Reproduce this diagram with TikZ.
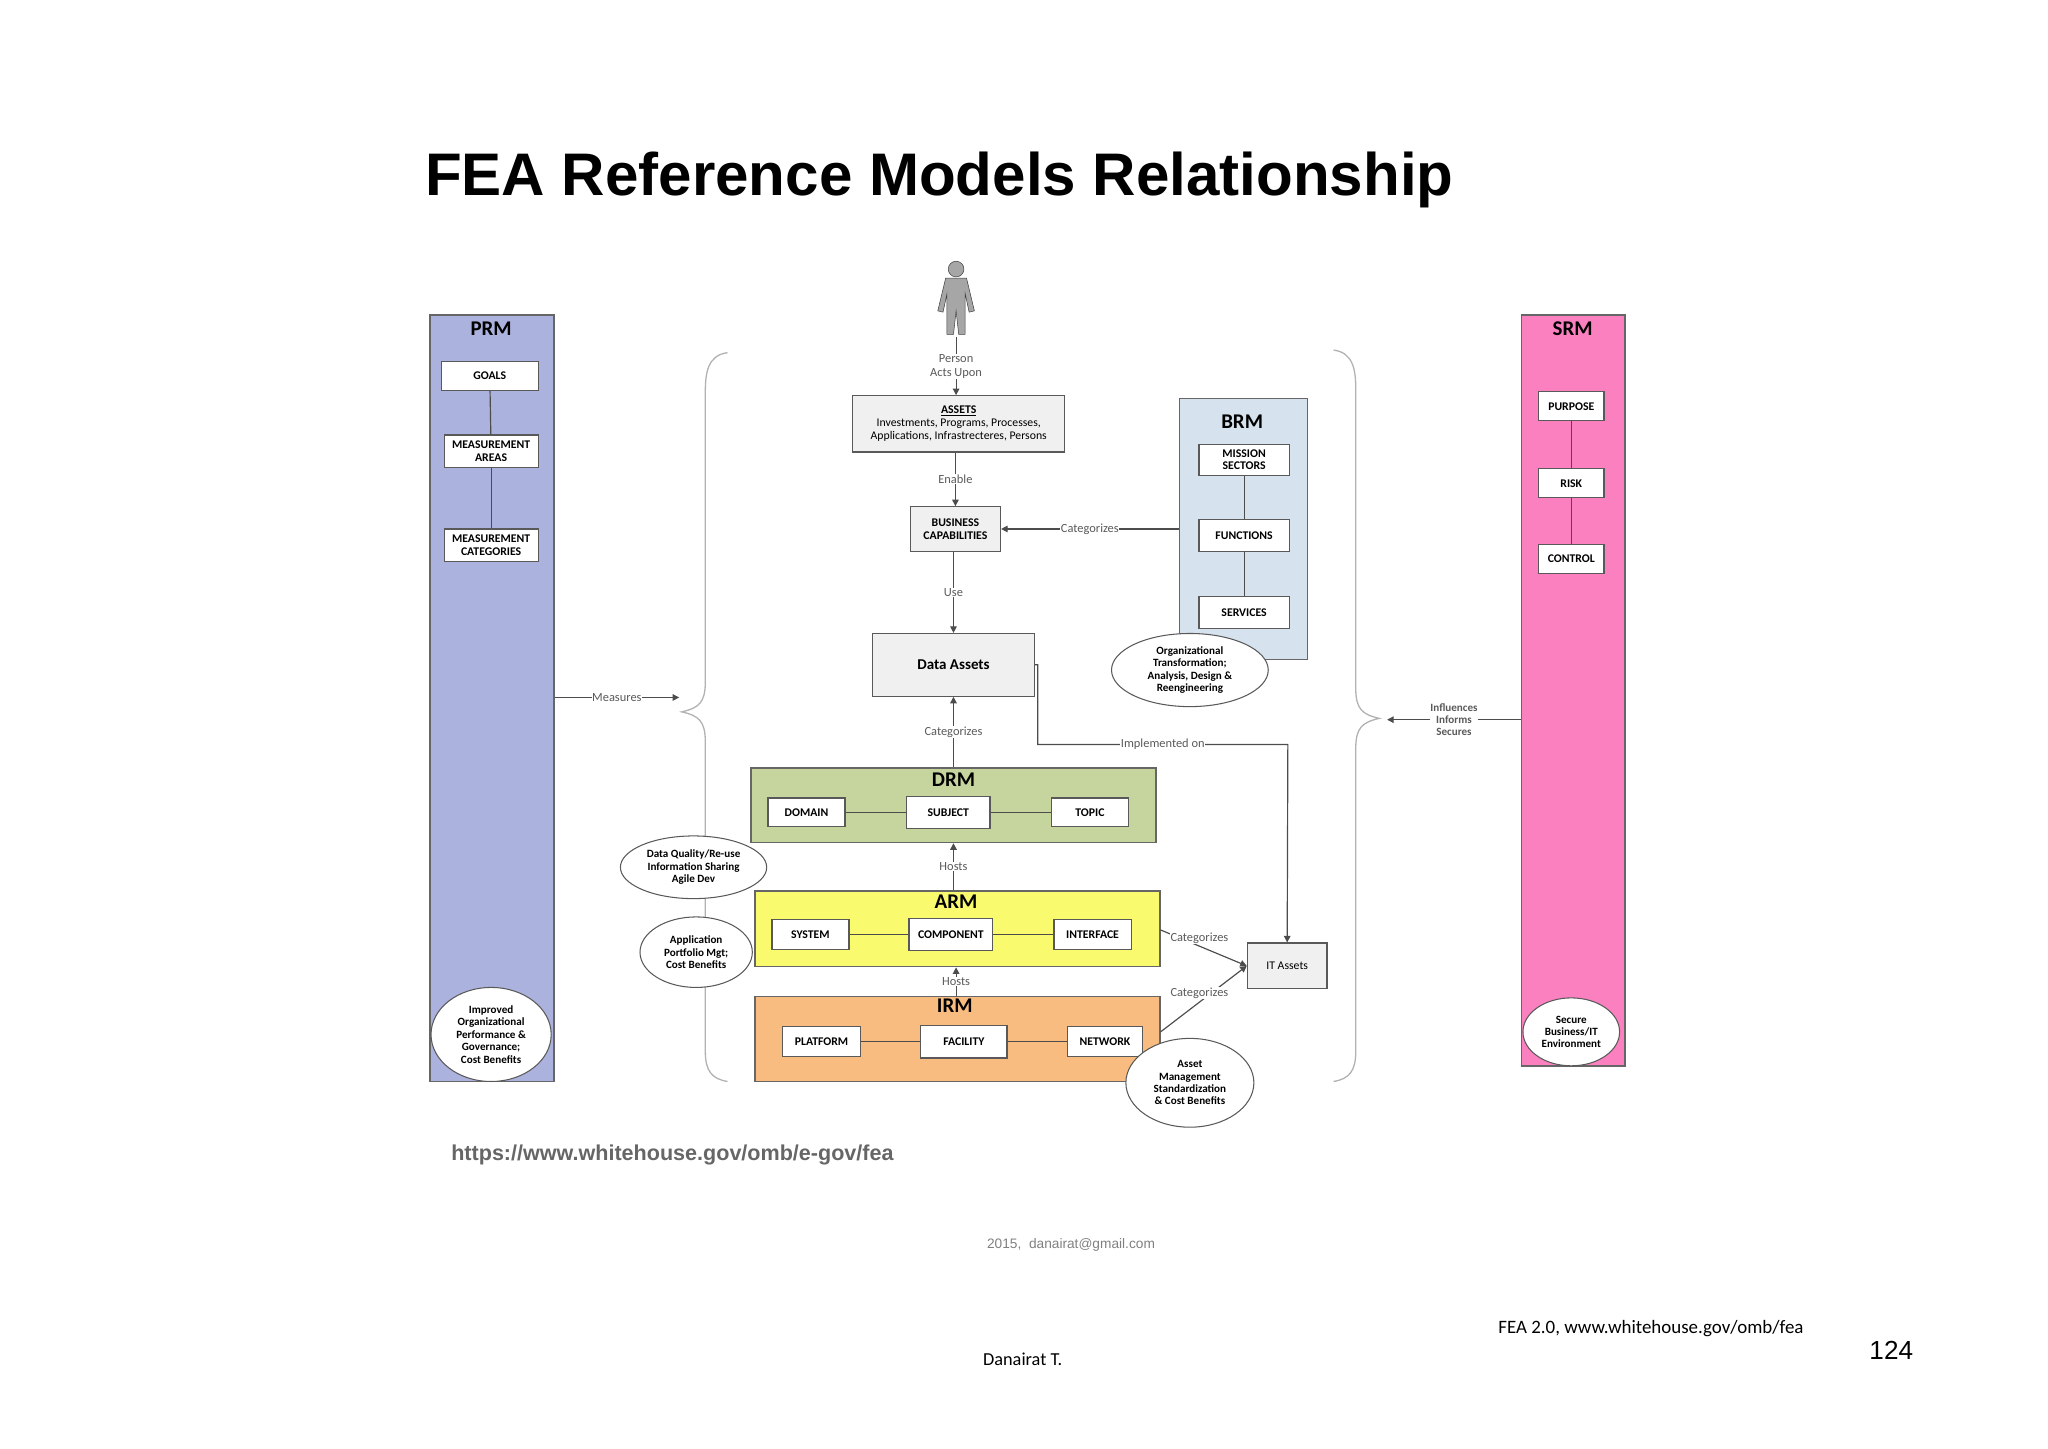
\documentclass[tikz,border=0pt]{standalone}
\usepackage{fontspec}
\setmainfont{Carlito}
\newfontfamily\arialfont{Liberation Sans}
\usetikzlibrary{shapes.geometric,arrows.meta,calc}
\definecolor{prmfill}{RGB}{172,178,222}
\definecolor{brmfill}{RGB}{214,227,239}
\definecolor{drmfill}{RGB}{198,212,158}
\definecolor{armfill}{RGB}{250,250,110}
\definecolor{irmfill}{RGB}{248,188,128}
\definecolor{srmfill}{RGB}{250,128,192}
\definecolor{txtgray}{RGB}{90,90,90}
\begin{document}
\begin{tikzpicture}[x=1pt,y=-1pt,
  model/.style={draw=gray!80!black, line width=1.2pt},
  item/.style={draw=gray!70!black, fill=white, line width=0.9pt, font=\fontsize{9}{9.5}\selectfont\bfseries, align=center, inner sep=1pt},
  hdr/.style={font=\fontsize{16}{18}\selectfont\bfseries},
  lbl/.style={font=\fontsize{9.5}{10.5}\selectfont, text=txtgray, fill=white, inner sep=0.5pt, align=center},
  bubble/.style={ellipse, draw=gray!70!black, fill=white, line width=0.8pt, font=\fontsize{8.5}{9.5}\selectfont\bfseries, align=center, inner sep=0pt},
  link/.style={draw=gray!60!black, line width=0.9pt},
  arr/.style={link, -{Triangle[length=5pt,width=5pt]}},
  brace/.style={draw=gray!60, line width=1pt}]
\useasboundingbox (0,0) rectangle (1568,1109);

% title
\node[anchor=west, font=\arialfont\fontsize{46}{50}\selectfont\bfseries] (title) at (322,138) {FEA Reference Models Relationship};

% PRM
\node[model, fill=prmfill, minimum width=95pt, minimum height=587pt, inner sep=0pt] (prm) at (376.5,534.5) {};
\node[hdr] (prmh) at (376,252) {PRM};
\node[item, minimum width=74pt, minimum height=22pt] (goals) at (375,288) {GOALS};
\node[item, minimum width=72pt, minimum height=25pt] (marea) at (376,345.5) {MEASUREMENT\\AREAS};
\node[item, minimum width=72pt, minimum height=25pt] (mcat) at (376,417.5) {MEASUREMENT\\CATEGORIES};
\draw[link] (goals) -- (marea);
\draw[link] (marea) -- (mcat);
\node[bubble, minimum width=92pt, minimum height=72pt] (prmb) at (376,792) {Improved\\Organizational\\Performance \&\\Governance;\\Cost Benefits};

% SRM
\node[model, fill=srmfill, minimum width=79pt, minimum height=575pt, inner sep=0pt] (srm) at (1204.5,528.5) {};
\node[hdr] (srmh) at (1204,252) {SRM};
\node[item, minimum width=50pt, minimum height=22pt] (purpose) at (1203,311) {PURPOSE};
\node[item, minimum width=50pt, minimum height=22pt] (risk) at (1203,370) {RISK};
\node[item, minimum width=50pt, minimum height=22pt] (control) at (1203,428) {CONTROL};
\draw[link] (purpose) -- (risk);
\draw[link] (risk) -- (control);
\node[bubble, minimum width=74pt, minimum height=52pt] (srmb) at (1203,790) {Secure\\Business/IT\\Environment};

% braces
\draw[brace] (557,270) .. controls (542,272) and (540,285) .. (540,300) -- (540,522) .. controls (540,538) and (535,542) .. (522,545) .. controls (535,548) and (540,552) .. (540,568) -- (540,805) .. controls (540,820) and (545,826) .. (557,828);
\draw[brace] (1021,268) .. controls (1036,270) and (1038,283) .. (1038,298) -- (1038,527) .. controls (1038,543) and (1043,547) .. (1056,550) .. controls (1043,553) and (1038,557) .. (1038,573) -- (1038,805) .. controls (1038,820) and (1033,826) .. (1021,828);
\coordinate (lbrace) at (520,534);
\coordinate (rbrace) at (1062,551);
\draw[arr] (prm.east |- lbrace) -- node[lbl]{Measures} (lbrace);
\draw[arr] (srm.west |- rbrace) -- node[lbl, font=\fontsize{8.5}{9.5}\selectfont\bfseries]{Influences\\Informs\\Secures} (rbrace);

% person
\node[minimum width=28pt, minimum height=58pt, inner sep=0pt] (person) at (732,229) {};
\fill[gray!70, draw=gray!50!black] (732,206) circle (6pt);
\fill[gray!70, draw=gray!50!black] (724,213) -- (740,213) -- (746,238) -- (742,239) -- (739,225) -- (739,256) -- (734,256) -- (732,238) -- (730,256) -- (725,256) -- (725,225) -- (722,239) -- (718,238) -- cycle;

% ASSETS
\node[item, fill=gray!12, font=\fontsize{9}{10}\selectfont, minimum width=162pt, minimum height=43pt] (assets) at (734,324.5) {\textbf{\underline{ASSETS}}\\Investments, Programs, Processes,\\Applications, Infrastrecteres, Persons};
\draw[arr] (person.south) -- node[lbl]{Person\\Acts Upon} (assets.north -| person.south);
\node[item, fill=gray!12, minimum width=69pt, minimum height=34pt] (bizcap) at (731.5,405) {BUSINESS\\CAPABILITIES};
\draw[arr] (assets.south -| bizcap.north) -- node[lbl]{Enable} (bizcap.north);
\node[item, fill=gray!12, font=\fontsize{11.5}{12}\selectfont\bfseries, minimum width=124pt, minimum height=48pt] (data) at (730,509) {Data Assets};
\draw[arr] (bizcap.south -| data.north) -- node[lbl]{Use} (data.north);

% BRM
\node[model, fill=brmfill, minimum width=98pt, minimum height=200pt, inner sep=0pt] (brm) at (952,405) {};
\node[hdr] (brmh) at (951,323) {BRM};
\node[item, minimum width=69pt, minimum height=24pt] (mission) at (952.5,352) {MISSION\\SECTORS};
\node[item, minimum width=69pt, minimum height=24pt] (functions) at (952.5,410) {FUNCTIONS};
\node[item, minimum width=69pt, minimum height=24pt] (services) at (952.5,469) {SERVICES};
\draw[link] (mission) -- (functions);
\draw[link] (functions) -- (services);
\draw[arr] (brm.west |- bizcap) -- node[lbl]{Categorizes} (bizcap.east);
\node[bubble, minimum width=120pt, minimum height=56pt] (brmb) at (911,513) {Organizational\\Transformation;\\Analysis, Design \&\\Reengineering};

% DRM / ARM / IRM
\node[model, fill=drmfill, minimum width=310pt, minimum height=57pt, inner sep=0pt] (drm) at (730,616.5) {};
\node[hdr] (drmh) at (730,597) {DRM};
\node[item, minimum width=59pt, minimum height=22pt] (domain) at (617.5,622) {DOMAIN};
\node[item, minimum width=64pt, minimum height=24pt] (subject) at (726,622) {SUBJECT};
\node[item, minimum width=59pt, minimum height=22pt] (topic) at (834.5,622) {TOPIC};
\draw[link] (domain) -- (subject);
\draw[link] (subject) -- (topic);

\node[model, fill=armfill, minimum width=310pt, minimum height=58pt, inner sep=0pt] (arm) at (733,711) {};
\node[hdr] (armh) at (732,690) {ARM};
\node[item, minimum width=59pt, minimum height=23pt] (system) at (620.5,715.5) {SYSTEM};
\node[item, minimum width=64pt, minimum height=25pt] (component) at (728,715.5) {COMPONENT};
\node[item, minimum width=59pt, minimum height=23pt] (interface) at (836.5,715.5) {INTERFACE};
\draw[link] (system) -- (component);
\draw[link] (component) -- (interface);

\node[model, fill=irmfill, minimum width=310pt, minimum height=65pt, inner sep=0pt] (irm) at (733,795.5) {};
\node[hdr] (irmh) at (731,770) {IRM};
\node[item, minimum width=60pt, minimum height=23pt] (platform) at (629,797.5) {PLATFORM};
\node[item, minimum width=66pt, minimum height=25pt] (facility) at (738,797.5) {FACILITY};
\node[item, minimum width=58pt, minimum height=23pt] (network) at (846,797.5) {NETWORK};
\draw[link] (platform) -- (facility);
\draw[link] (facility) -- (network);

\draw[arr] (drm.north -| data.south) -- node[lbl]{Categorizes} (data.south);
\draw[arr] (arm.north -| data.south) -- node[lbl]{Hosts} (drm.south -| data.south);
\draw[arr] (irm.north -| armh) -- node[lbl]{Hosts} (arm.south -| armh);

% IT assets
\node[item, fill=gray!12, font=\fontsize{9}{10}\selectfont, minimum width=61pt, minimum height=35pt] (it) at (985.5,739.5) {IT Assets};
\draw[arr] (data.east) -- ++(2,0) |- (986,570) node[lbl, pos=0.75]{Implemented on} -- (it.north);
\draw[arr] (arm.east |- 0,712) -- node[lbl, pos=0.45, above=1pt]{Categorizes} (it.west);
\draw[arr] (irm.east |- 0,790) -- node[lbl, pos=0.45, above=2pt]{Categorizes} (it.west);

\node[bubble, minimum width=112pt, minimum height=48pt] (drmb) at (531,664) {Data Quality/Re-use\\Information Sharing\\Agile Dev};
\node[bubble, minimum width=86pt, minimum height=54pt] (armb) at (533,729) {Application\\Portfolio Mgt;\\Cost Benefits};
\node[bubble, minimum width=98pt, minimum height=68pt] (irmb) at (911,829) {Asset\\Management\\Standardization\\\& Cost Benefits};

% footer
\node[anchor=west, text=gray!80!black, font=\arialfont\fontsize{16.5}{18}\selectfont\bfseries] (url) at (342,884) {https://www.whitehouse.gov/omb/e-gov/fea};
\node[text=gray, font=\arialfont\fontsize{10.5}{12}\selectfont] (mail) at (820,953) {2015,\ \ danairat@gmail.com};
\node[font=\fontsize{14.5}{16}\selectfont] (src) at (1264,1017) {FEA 2.0, www.whitehouse.gov/omb/fea};
\node[font=\fontsize{14}{16}\selectfont] (author) at (783,1041) {Danairat T.};
\node[font=\arialfont\fontsize{20}{22}\selectfont] (page) at (1448,1034) {124};
\end{tikzpicture}
\end{document}
